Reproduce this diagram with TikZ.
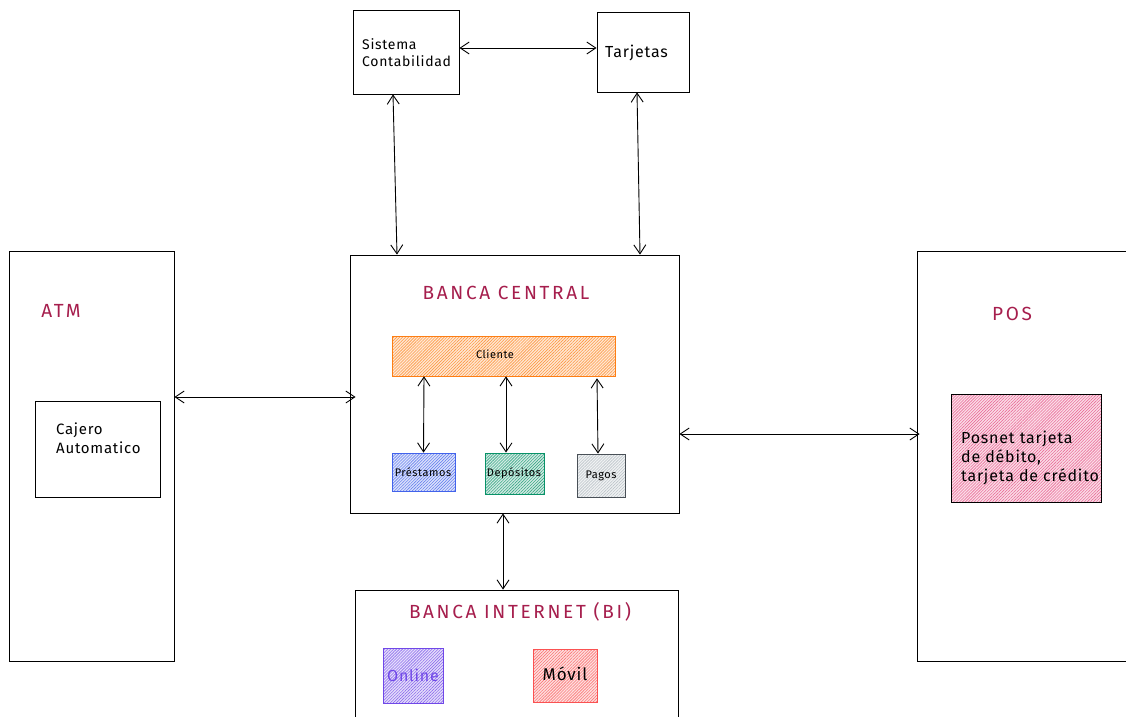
\documentclass[tikz,border=0pt]{standalone}
\usepackage{fontspec}
\setmainfont[LetterSpace=5]{Fira Sans}
\usetikzlibrary{arrows.meta,patterns.meta}

\definecolor{titlec}{HTML}{A61E4D}
\definecolor{orangec}{HTML}{FD7E14}
\definecolor{bluec}{HTML}{4263EB}
\definecolor{greenc}{HTML}{099268}
\definecolor{grayc}{HTML}{495057}
\definecolor{grayfill}{HTML}{ADB5BD}
\definecolor{pinkc}{HTML}{E64980}
\definecolor{violetc}{HTML}{7048E8}
\definecolor{redc}{HTML}{FA5252}

\tikzset{
  box/.style={draw=black, line width=0.8pt, rectangle, inner sep=0pt},
  hatch/.style={preaction={fill=#1!18}, pattern={Lines[angle=45,distance=2.1pt,line width=0.6pt]}, pattern color=#1!80},
  biarrow/.style={line width=0.9pt, {Straight Barb[length=9pt,width=12pt]}-{Straight Barb[length=9pt,width=12pt]}},
  title/.style={text=titlec, font=\fontsize{19}{22}\selectfont\addfontfeature{LetterSpace=14}, inner sep=0pt},
  lbl/.style={font=\fontsize{14}{17}\selectfont, inner sep=0pt, align=left},
  small/.style={font=\fontsize{11}{13}\selectfont, inner sep=0pt},
}

\begin{document}
\begin{tikzpicture}[x=1pt,y=-1pt]
\useasboundingbox (0,0) rectangle (1126,716);
\fill[white] (0,0) rectangle (1126,716);

% top systems
\node[box, minimum width=106pt, minimum height=84pt] (sis) at (406,52) {};
\node[box, minimum width=92pt, minimum height=80pt] (tar) at (643,52) {};
\node[lbl, anchor=west] (sistxt) at (362,53) {Sistema\\Contabilidad};
\node[lbl, anchor=west, font=\fontsize{16}{19}\selectfont] (tartxt) at (605,53) {Tarjetas};

% central bank
\node[box, minimum width=329pt, minimum height=258pt] (central) at (514.5,384) {};
\node[title] (centraltxt) at (506,293) {BANCA CENTRAL};

\node[box, draw=orangec, hatch=orangec, minimum width=223pt, minimum height=40pt] (cli) at (503.5,356) {};
\node[small] (clitxt) at (495,354) {Cliente};

\node[box, draw=bluec, hatch=bluec, minimum width=63pt, minimum height=38pt] (pre) at (423.5,472) {};
\node[small] (pretxt) at (423,472) {Préstamos};
\node[box, draw=greenc, hatch=greenc, minimum width=59pt, minimum height=41pt] (dep) at (514.5,473.5) {};
\node[small] (deptxt) at (514,473) {Depósitos};
\node[box, draw=grayc, hatch=grayfill, minimum width=48pt, minimum height=43pt] (pag) at (601,475.5) {};
\node[small] (pagtxt) at (601,476) {Pagos};

% ATM
\node[box, minimum width=165pt, minimum height=410pt] (atm) at (91.5,456) {};
\node[title] (atmtxt) at (61,311) {ATM};
\node[box, minimum width=125pt, minimum height=96pt] (caj) at (97.5,449) {};
\node[lbl, anchor=west, font=\fontsize{15}{19}\selectfont] (cajtxt) at (56,438) {Cajero\\Automatico};

% POS
\node[box, minimum width=213pt, minimum height=410pt] (pos) at (1023.5,456) {};
\node[title] (postxt) at (1012,314) {POS};
\node[box, hatch=pinkc, minimum width=150pt, minimum height=108pt] (posnet) at (1026,448) {};
\node[lbl, anchor=west, font=\fontsize{16}{19}\selectfont] (posnettxt) at (961,458) {Posnet tarjeta\\de débito,\\tarjeta de crédito};

% internet banking
\node[box, minimum width=323pt, minimum height=130pt] (bi) at (516.5,655) {};
\node[title] (bitxt) at (520,612) {BANCA INTERNET (BI)};
\node[box, draw=violetc, hatch=violetc, minimum width=60pt, minimum height=55pt] (onl) at (413,675.5) {};
\node[lbl, text=violetc, font=\fontsize{16}{18}\selectfont] (onltxt) at (413,675) {Online};
\node[box, draw=redc, hatch=redc, minimum width=64pt, minimum height=53pt] (mov) at (565,675.5) {};
\node[lbl, font=\fontsize{17}{18}\selectfont] (movtxt) at (565,674) {Móvil};

% connectors
\draw[biarrow] ([yshift=4pt]sis.east) -- ([yshift=4pt]tar.west);
\draw[biarrow] ([xshift=-13pt]sis.south) -- ([xshift=-117.5pt]central.north);
\draw[biarrow] ([xshift=-6pt]tar.south) -- ([xshift=125.5pt]central.north);
\draw[biarrow] ([yshift=59pt]atm.east) -- ([xshift=6pt,yshift=-13pt]central.west);
\draw[biarrow] ([yshift=-50pt]central.east) -- ([xshift=3pt,yshift=22pt]pos.west);
\draw[biarrow] ([xshift=-11.5pt]central.south) -- ([xshift=-13.5pt]bi.north);
\draw[biarrow] ([xshift=-79.5pt]cli.south) -- (pre.north);
\draw[biarrow] ([xshift=2.5pt]cli.south) -- ([xshift=-8.5pt]dep.north);
\draw[biarrow] ([xshift=93.5pt,yshift=-2pt]cli.south) -- ([xshift=-3pt]pag.north);
\end{tikzpicture}
\end{document}
